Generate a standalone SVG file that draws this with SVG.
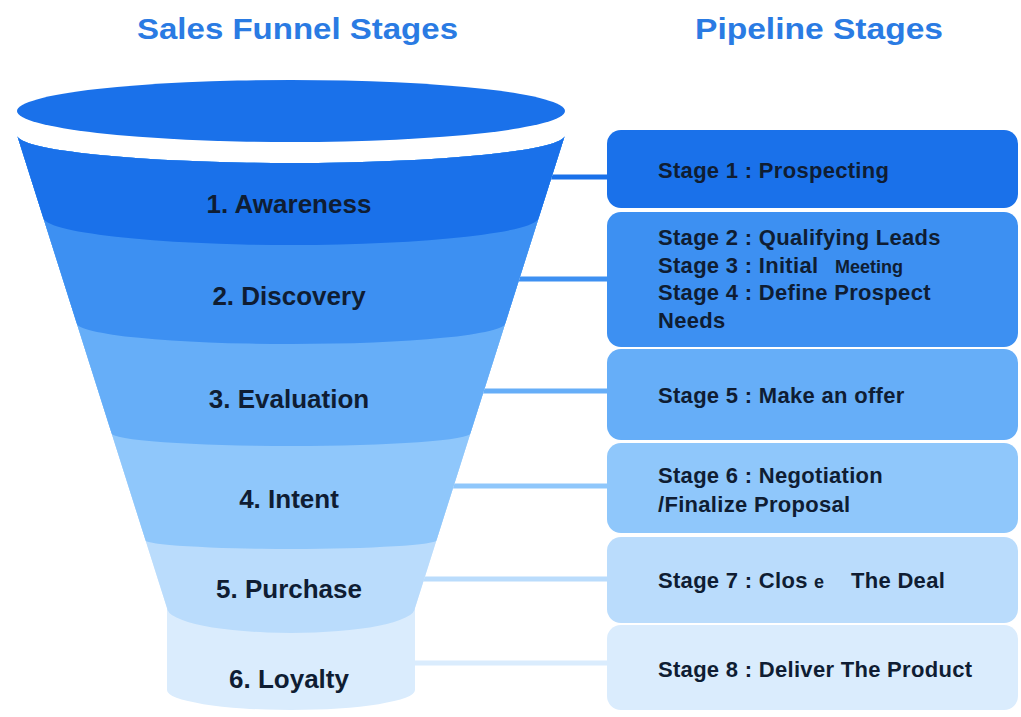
<svg xmlns="http://www.w3.org/2000/svg" width="1021" height="717" viewBox="0 0 1021 717">
<style>
.title{font-family:"Liberation Sans",Arial,sans-serif;font-weight:bold;font-size:29px;fill:#2a7be3}
.fl{font-family:"Liberation Sans",Arial,sans-serif;font-weight:bold;font-size:26px;fill:#0f1d33;text-anchor:middle}
.bt{font-family:"Liberation Sans",Arial,sans-serif;font-weight:bold;font-size:22px;fill:#0f1d33;letter-spacing:0.3px}
.sm{font-size:18px;letter-spacing:0}
.c1{fill:#1a71ea}.c2{fill:#3d90f2}.c3{fill:#66aef8}.c4{fill:#8fc7fb}.c5{fill:#badcfc}.c6{fill:#daecfd}
.l{stroke-width:5;fill:none}
</style>
<defs>
<clipPath id="funnelClip">
<path d="M17,135 A274,28 0 0 0 565,135 L415,608 V690 A124,20 0 0 1 167,690 V608 Z"/>
</clipPath>
</defs>
<rect width="1021" height="717" fill="#ffffff"/>
<text class="title" x="137" y="39" textLength="321" lengthAdjust="spacingAndGlyphs">Sales Funnel Stages</text>
<text class="title" x="695" y="39" textLength="248" lengthAdjust="spacingAndGlyphs">Pipeline Stages</text>

<g id="connectors">
<line class="l" x1="550" y1="177" x2="610" y2="177" stroke="#1a71ea"/>
<line class="l" x1="518" y1="279" x2="610" y2="279" stroke="#3d90f2"/>
<line class="l" x1="483" y1="391" x2="610" y2="391" stroke="#66aef8"/>
<line class="l" x1="453" y1="486" x2="610" y2="486" stroke="#8fc7fb"/>
<line class="l" x1="423" y1="579" x2="610" y2="579" stroke="#badcfc"/>
<line class="l" x1="413" y1="663" x2="610" y2="663" stroke="#daecfd"/>
</g>

<g id="funnel">
<ellipse class="c1" cx="291" cy="111" rx="274" ry="31"/>
<g clip-path="url(#funnelClip)">
<rect class="c6" x="0" y="120" width="600" height="600"/>
<path class="c5" d="M0,120 H600 V608 H415 A124,25 0 0 1 167,608 H0 Z"/>
<path class="c4" d="M0,120 H600 V540 H437.1 A146.1,9 0 0 1 144.9,540 H0 Z"/>
<path class="c3" d="M0,120 H600 V433 H470.9 A179.9,13 0 0 1 111.1,433 H0 Z"/>
<path class="c2" d="M0,120 H600 V323 H505.6 A214.6,21 0 0 1 76.4,323 H0 Z"/>
<path class="c1" d="M0,120 H600 V217 H539.1 A248.1,28 0 0 1 42.9,217 H0 Z"/>
</g>
</g>

<g id="stage-awareness"><text class="fl" x="289" y="213">1. Awareness</text></g>
<g id="stage-discovery"><text class="fl" x="289" y="305">2. Discovery</text></g>
<g id="stage-evaluation"><text class="fl" x="289" y="408">3. Evaluation</text></g>
<g id="stage-intent"><text class="fl" x="289" y="508">4. Intent</text></g>
<g id="stage-purchase"><text class="fl" x="289" y="598">5. Purchase</text></g>
<g id="stage-loyalty"><text class="fl" x="289" y="688">6. Loyalty</text></g>

<g id="pipe-1">
<rect class="c1" x="607" y="130" width="411" height="78" rx="14"/>
<text class="bt" x="658" y="178">Stage 1 : Prospecting</text>
</g>
<g id="pipe-2">
<rect class="c2" x="607" y="212" width="411" height="135" rx="14"/>
<text class="bt" x="658" y="245">Stage 2 : Qualifying Leads</text>
<text class="bt" x="658" y="273">Stage 3 : Initial<tspan class="sm" x="835">Meeting</tspan></text>
<text class="bt" x="658" y="300">Stage 4 : Define Prospect</text>
<text class="bt" x="658" y="328">Needs</text>
</g>
<g id="pipe-3">
<rect class="c3" x="607" y="349" width="411" height="91" rx="14"/>
<text class="bt" x="658" y="403">Stage 5 : Make an offer</text>
</g>
<g id="pipe-4">
<rect class="c4" x="607" y="443" width="411" height="90" rx="14"/>
<text class="bt" x="658" y="483">Stage 6 : Negotiation</text>
<text class="bt" x="658" y="512">/Finalize Proposal</text>
</g>
<g id="pipe-5">
<rect class="c5" x="607" y="537" width="411" height="86" rx="14"/>
<text class="bt" x="658" y="588">Stage 7 : Clos<tspan class="sm" x="814">e</tspan><tspan x="851">The Deal</tspan></text>
</g>
<g id="pipe-6">
<rect class="c6" x="607" y="625" width="411" height="85" rx="14"/>
<text class="bt" x="658" y="677">Stage 8 : Deliver The Product</text>
</g>
</svg>
